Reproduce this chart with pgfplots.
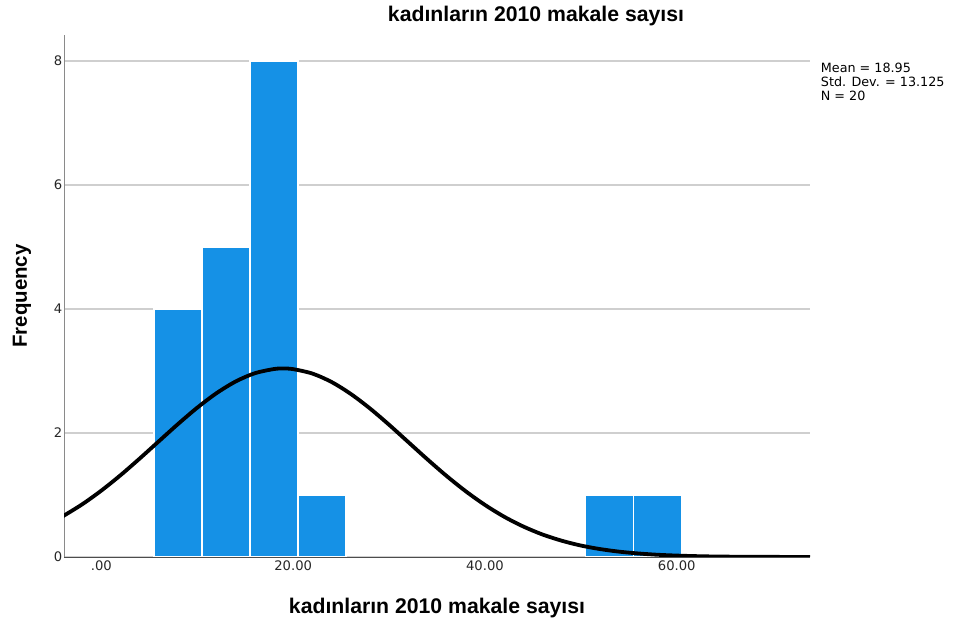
\documentclass[border=0pt]{standalone}
\usepackage{pgfplots}
\pgfplotsset{compat=1.18}
\usepackage{fontspec}
\setmainfont{Liberation Sans}
\newfontfamily\tickfont{DejaVu Sans}

\definecolor{barblue}{HTML}{1591E6}
\definecolor{gridgray}{HTML}{CFCFCF}
\definecolor{axisgray}{HTML}{8A8A8A}

\begin{document}
\begin{tikzpicture}
\useasboundingbox (0,0) rectangle (956bp,626bp);
\begin{axis}[
    name=ax,
    at={(64bp,69bp)}, anchor=south west,
    scale only axis,
    width=746bp, height=522bp,
    xmin=-3.9, xmax=73.9,
    ymin=0, ymax=8.42,
    axis x line=bottom, axis y line=left,
    x axis line style={-, draw=black!70, line width=0.8bp},
    y axis line style={-, draw=axisgray, line width=0.8bp},
    major tick length=0pt,
    xtick={0,20,40,60},
    xticklabels={.00,20.00,40.00,60.00},
    ytick={0,2,4,6,8},
    /pgf/number format/assume math mode=true,
    ymajorgrids,
    major grid style={draw=gridgray, line width=1.3bp},
    ticklabel style={font=\tickfont\fontsize{13.2}{15}\selectfont, text=black!85},
    yticklabel style={inner xsep=1.5bp},
    every axis title shift=0pt,
    title={\bfseries kadınların 2010 makale sayısı},
    title style={font=\fontsize{21.3}{24}\selectfont, at={(axis description cs:0.6327,1.0364)}, anchor=center},
    xlabel={\bfseries kadınların 2010 makale sayısı},
    xlabel style={font=\fontsize{21.3}{24}\selectfont, at={(axis description cs:0.5,-0.0977)}, anchor=center},
    ylabel={\bfseries Frequency},
    ylabel style={font=\fontsize{20.5}{24}\selectfont, at={(axis description cs:-0.0563,0.5)}, anchor=center},
]
% histogram, bin width 5
\addplot[ybar interval, fill=barblue, draw=white, line width=1.6bp]
    coordinates {(5.5,4) (10.5,5) (15.5,8) (20.5,1) (25.5,0)};
\addplot[ybar interval, fill=barblue, draw=white, line width=1.6bp]
    coordinates {(50.5,1) (55.5,1) (60.5,0)};
% normal curve (mean 18.95, sd 13.125, N 20)
\addplot[black, line width=3.8bp, smooth] coordinates {
    (-4,0.659) (-2,0.850) (0,1.072) (2,1.320) (4,1.589) (6,1.868)
    (8,2.146) (10,2.409) (12,2.642) (14,2.831) (16,2.964) (18,3.032)
    (19,3.040) (20,3.030) (22,2.959) (24,2.823) (26,2.631) (28,2.397)
    (30,2.133) (32,1.854) (34,1.575) (36,1.307) (38,1.060) (40,0.840)
    (42,0.650) (44,0.492) (46,0.363) (48,0.263) (50,0.185) (52,0.128)
    (54,0.086) (56,0.057) (58,0.036) (60,0.023) (62,0.014) (64,0.008)
    (66,0.005) (68,0.003) (70,0.002) (72,0.001) (74,0.0005)
};
\end{axis}
\node[anchor=north west, inner sep=0pt, align=left,
      font=\tickfont\fontsize{12.8}{14.3}\selectfont]
    at ([xshift=10.7bp, yshift=-27.5bp]ax.north east)
    {Mean = 18.95\\Std. Dev. = 13.125\\N = 20};
\end{tikzpicture}
\end{document}
